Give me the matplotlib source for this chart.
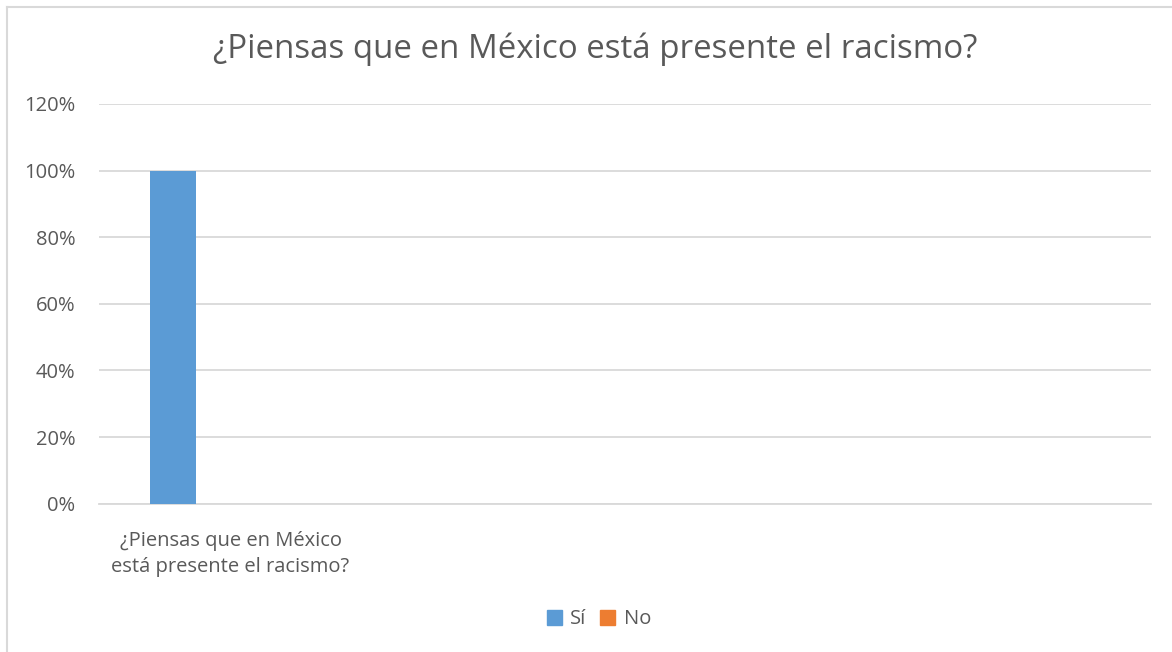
import numpy as np
import matplotlib
matplotlib.use('Agg')
import matplotlib.pyplot as plt
from matplotlib.lines import Line2D
from matplotlib.patches import Patch

plt.rcParams['font.family'] = ['Open Sans', 'DejaVu Sans']

title = '¿Piensas que en México está presente el racismo?'
categories = ['¿Piensas que en México\nestá presente el racismo?']
series_names = ['Sí', 'No']
si_values = [1.0]
no_values = [0.0]
yticks = [0, 0.2, 0.4, 0.6, 0.8, 1.0, 1.2]
ytick_labels = ['0%', '20%', '40%', '60%', '80%', '100%', '120%']

blue = '#5B9BD5'
orange = '#ED7D31'
grey_text = '#595959'
grid_col = '#D9D9D9'

fig = plt.figure(figsize=(11.72, 6.52), dpi=100)
ax = fig.add_axes([0.0845, 0.2275, 0.8975, 0.613])

x = np.arange(len(categories))
w = 0.175
ax.bar(x - 0.219, si_values, width=w, color=blue, zorder=3)
ax.bar(x - 0.044, no_values, width=w, color=orange, zorder=3)

# chart has room for 4 category slots, only the first is used
ax.set_xlim(-0.5, 3.5)
ax.set_ylim(0, 1.2)
ax.set_yticks(yticks)
ax.set_yticklabels(ytick_labels)
ax.set_xticks(x)
ax.set_xticklabels(categories, linespacing=1.4)
ax.tick_params(axis='y', length=0, pad=17, labelsize=14.5, labelcolor=grey_text)
ax.tick_params(axis='x', length=0, pad=19.5, labelsize=14.5, labelcolor=grey_text)
ax.grid(axis='y', color=grid_col, linewidth=1.3, zorder=0)
for s in ['top', 'right', 'left']:
    ax.spines[s].set_visible(False)
ax.spines['bottom'].set_color(grid_col)
ax.spines['bottom'].set_linewidth(1.3)

fig.text(0.508, 0.924, title, ha='center', va='center', fontsize=23.8, color=grey_text)

handles = [Patch(color=blue), Patch(color=orange)]
fig.legend(handles, series_names, loc='center', bbox_to_anchor=(0.511, 0.05), ncol=2,
           frameon=False, fontsize=14.5, labelcolor=grey_text, handlelength=0.75,
           handleheight=0.75, handletextpad=0.4, columnspacing=0.7)

# outer chart frame (top and left visible)
fig.add_artist(Line2D([7 / 1172, 1], [1 - 7 / 652, 1 - 7 / 652], color=grid_col, linewidth=1.5))
fig.add_artist(Line2D([7 / 1172, 7 / 1172], [0, 1 - 7 / 652], color=grid_col, linewidth=1.5))

fig.savefig('out.png', dpi=100, facecolor='white')
